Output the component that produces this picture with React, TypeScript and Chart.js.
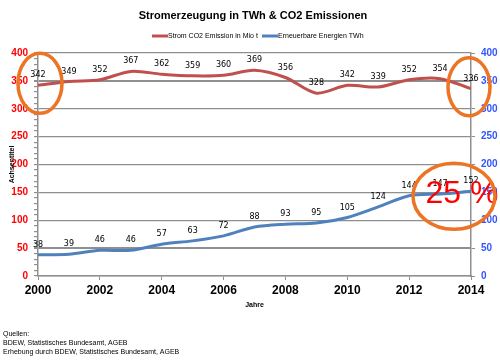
import React, { useEffect, useRef } from 'react';
import { Chart, registerables } from 'chart.js';

Chart.register(...registerables);

const years = [2000, 2001, 2002, 2003, 2004, 2005, 2006, 2007, 2008, 2009, 2010, 2011, 2012, 2013, 2014];
const co2Emission = [342, 349, 352, 367, 362, 359, 360, 369, 356, 328, 342, 339, 352, 354, 336];
const renewables = [38, 39, 46, 46, 57, 63, 72, 88, 93, 95, 105, 124, 144, 147, 152];
const yTickValues = [0, 50, 100, 150, 200, 250, 300, 350, 400];

const titleText = 'Stromerzeugung in TWh & CO2 Emissionen';
const seriesNames = ['Strom CO2 Emission in Mio t', 'Erneuerbare Energien TWh'];
const xAxisTitle = 'Jahre';
const yAxisTitle = 'Achsentitel';
const sourceLines = ['Quellen:', 'BDEW, Statistisches Bundesamt, AGEB', 'Erhebung durch BDEW, Statistisches Bundesamt, AGEB'];
const highlightText = '25 %';

const RED = '#C0504D';
const BLUE = '#4F81BD';
const ORANGE = '#EC7424';
const GRID = '#8f8f8f';

const overlayPlugin = {
  id: 'overlay',
  afterDraw(chart: any) {
    const ctx = chart.ctx as CanvasRenderingContext2D;
    const xs = chart.scales.x;
    const ys = chart.scales.y;
    ctx.save();

    // title
    ctx.fillStyle = '#000';
    ctx.textAlign = 'center';
    ctx.textBaseline = 'middle';
    ctx.font = 'bold 11px "Liberation Sans", Arial, sans-serif';
    ctx.fillText(titleText, 253, 16);

    // legend
    ctx.font = '7px "Liberation Sans", Arial, sans-serif';
    ctx.textAlign = 'left';
    const legendItems = [
      { color: RED, text: seriesNames[0], x: 152 },
      { color: BLUE, text: seriesNames[1], x: 262 },
    ];
    legendItems.forEach((it) => {
      ctx.strokeStyle = it.color;
      ctx.lineWidth = 3;
      ctx.beginPath();
      ctx.moveTo(it.x, 36);
      ctx.lineTo(it.x + 16, 36);
      ctx.stroke();
      ctx.fillStyle = '#000';
      ctx.fillText(it.text, it.x + 16, 36.5);
    });

    // data labels
    ctx.font = '8px "DejaVu Sans", Verdana, sans-serif';
    ctx.textAlign = 'center';
    ctx.textBaseline = 'middle';
    ctx.fillStyle = '#000';
    chart.data.datasets.forEach((ds: any, i: number) => {
      const meta = chart.getDatasetMeta(i);
      meta.data.forEach((pt: any, j: number) => {
        ctx.fillText(String(ds.data[j].y), pt.x, pt.y - 10);
      });
    });

    // axis titles
    ctx.font = 'bold 7px "Liberation Sans", Arial, sans-serif';
    ctx.fillText(xAxisTitle, (chart.chartArea.left + chart.chartArea.right) / 2, 305);
    ctx.save();
    ctx.translate(12, (chart.chartArea.top + chart.chartArea.bottom) / 2);
    ctx.rotate(-Math.PI / 2);
    ctx.fillText(yAxisTitle, 0, 0);
    ctx.restore();

    // sources
    ctx.font = '7px "Liberation Sans", Arial, sans-serif';
    ctx.textAlign = 'left';
    sourceLines.forEach((l, i) => ctx.fillText(l, 3, 334 + i * 9));

    // highlights
    const n = years.length - 1;
    const p1x = xs.getPixelForValue(years[0]);
    const p1y = ys.getPixelForValue(co2Emission[0]);
    const p2x = xs.getPixelForValue(years[n]);
    const p2y = ys.getPixelForValue(co2Emission[n]);
    const p3x = xs.getPixelForValue(years[n]);
    const p3y = ys.getPixelForValue(renewables[n]);

    ctx.fillStyle = '#FF0000';
    ctx.font = '32px "Liberation Sans Narrow", "Liberation Sans", Arial, sans-serif';
    ctx.textAlign = 'center';
    ctx.textBaseline = 'middle';
    ctx.fillText(highlightText, p3x - 9, p3y + 3);

    ctx.strokeStyle = ORANGE;
    ctx.lineWidth = 3.5;
    ctx.beginPath();
    ctx.ellipse(p1x + 2, p1y - 2, 22, 30, 0, 0, Math.PI * 2);
    ctx.stroke();
    ctx.beginPath();
    ctx.ellipse(p2x - 2, p2y - 2, 21, 29, 0, 0, Math.PI * 2);
    ctx.stroke();
    ctx.beginPath();
    ctx.ellipse(p3x - 17, p3y + 5, 41, 33, 0, 0, Math.PI * 2);
    ctx.stroke();

    ctx.restore();
  },
};

export default function App() {
  const ref = useRef<HTMLCanvasElement>(null);
  useEffect(() => {
    document.body.style.margin = '0';
    const canvas = ref.current!;
    const chart = new Chart(canvas, {
      type: 'line',
      data: {
        datasets: [
          {
            label: seriesNames[0],
            data: years.map((x, i) => ({ x, y: co2Emission[i] })),
            borderColor: RED,
            backgroundColor: RED,
            borderWidth: 3,
            pointRadius: 0,
            tension: 0.3,
            yAxisID: 'y',
          },
          {
            label: seriesNames[1],
            data: years.map((x, i) => ({ x, y: renewables[i] })),
            borderColor: BLUE,
            backgroundColor: BLUE,
            borderWidth: 3,
            pointRadius: 0,
            tension: 0.3,
            yAxisID: 'y',
          },
        ],
      },
      options: {
        responsive: false,
        animation: false,
        layout: { padding: { top: 53, left: 0, right: 0, bottom: 0 } },
        plugins: { legend: { display: false }, title: { display: false }, tooltip: { enabled: false } },
        scales: {
          x: {
            type: 'linear',
            min: years[0],
            max: years[years.length - 1],
            afterFit: (s: any) => { s.height = 84; },
            ticks: {
              stepSize: 2,
              color: '#000',
              font: { family: '"Liberation Sans", Arial, sans-serif', size: 12, weight: 'bold' },
              callback: (v: any) => String(v),
              padding: 3,
              maxRotation: 0,
            },
            grid: { drawOnChartArea: false, color: GRID, tickLength: 4 },
            border: { color: GRID, width: 1.5 },
          },
          y: {
            type: 'linear',
            position: 'left',
            min: yTickValues[0],
            max: yTickValues[yTickValues.length - 1],
            afterFit: (s: any) => { s.width = 38; },
            ticks: {
              stepSize: 10,
              autoSkip: false,
              color: '#FF0000',
              padding: 6,
              font: { family: '"Liberation Sans", Arial, sans-serif', size: 10, weight: 'bold' },
              callback: (v: any) => (yTickValues.includes(v) ? String(v) : ''),
            },
            grid: {
              color: (c: any) => (c.tick && yTickValues.includes(c.tick.value) ? GRID : 'rgba(0,0,0,0)'),
              lineWidth: (c: any) => (c.tick && (c.tick.value === 50 || c.tick.value === 350) ? 2 : 1.2),
              tickColor: GRID,
              tickLength: 4,
            },
            border: { color: GRID, width: 1.5 },
          },
          y1: {
            type: 'linear',
            position: 'right',
            min: yTickValues[0],
            max: yTickValues[yTickValues.length - 1],
            afterFit: (s: any) => { s.width = 29; },
            ticks: {
              stepSize: 50,
              color: '#3355FF',
              padding: 6,
              font: { family: '"Liberation Sans", Arial, sans-serif', size: 10, weight: 'bold' },
            },
            grid: { drawOnChartArea: false, color: GRID, tickLength: 4 },
            border: { color: GRID, width: 1.5 },
          },
        },
      } as any,
      plugins: [overlayPlugin],
    });
    return () => chart.destroy();
  }, []);
  return (
    <div style={{ width: 500, height: 360 }}>
      <canvas ref={ref} width={500} height={360} />
    </div>
  );
}
